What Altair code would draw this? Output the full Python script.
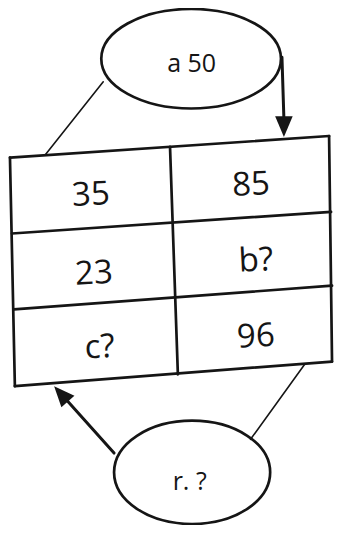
import altair as alt
import pandas as pd

# ---- table cell texts (diagram coordinates, y downward) ----
cell_labels = ["35", "85", "23", "b?", "c?", "96"]
cell_x = [95, 258, 98, 263, 104, 263]
cell_y = [208, 198, 288, 275, 363, 352]

# ---- ellipse nodes ----
node_labels = ["a 50", "r. ?"]
node_x = [196.5, 197.5]
node_y = [59.5, 479.5]
node_text_x = [197, 195]
node_text_y = [73, 497]

# ---- table grid segments ----
grid_x1 = [12, 17, 12, 337, 175, 14, 16]
grid_y1 = [160, 392, 160, 138, 149, 237, 314]
grid_x2 = [337, 340, 17, 340, 183, 339, 340]
grid_y2 = [138, 367, 392, 367, 380, 215, 290]

# ---- thin connectors ----
conn_x1 = [107, 257]
conn_y1 = [83, 446]
conn_x2 = [48, 312]
conn_y2 = [157, 370]

# ---- arrows ----
arrow_x1 = [289, 118]
arrow_y1 = [58, 460]
arrow_x2 = [291, 66]
arrow_y2 = [121, 402]
head_x = [291, 64]
head_y = [128.5, 399.8]
head_angle = [0, 138]

xs = alt.Scale(domain=[10, 342], nice=False, zero=False)
ys = alt.Scale(domain=[8, 533], reverse=True, nice=False, zero=False)
INK = "#151515"

cells = pd.DataFrame({"label": cell_labels, "x": cell_x, "y": cell_y})
nodes = pd.DataFrame({"label": node_labels, "x": node_x, "y": node_y,
                      "tx": node_text_x, "ty": node_text_y})
grid = pd.DataFrame({"x": grid_x1, "y": grid_y1, "x2": grid_x2, "y2": grid_y2})
conn = pd.DataFrame({"x": conn_x1, "y": conn_y1, "x2": conn_x2, "y2": conn_y2})
arrows = pd.DataFrame({"x": arrow_x1, "y": arrow_y1, "x2": arrow_x2, "y2": arrow_y2})
heads = pd.DataFrame({"x": head_x, "y": head_y, "angle": head_angle})


def seg(df, width):
    return alt.Chart(df).mark_rule(color=INK, strokeWidth=width, strokeCap="round").encode(
        x=alt.X("x:Q", scale=xs, axis=None),
        y=alt.Y("y:Q", scale=ys, axis=None),
        x2="x2:Q",
        y2="y2:Q",
    )


grid_layer = seg(grid, 2.7)
conn_layer = seg(conn, 1.6)
arrow_layer = seg(arrows, 3)

head_layer = alt.Chart(heads).mark_point(
    shape="M -0.85 -1 L 0.85 -1 L 0 1 Z", size=426, filled=True, color=INK, opacity=1
).encode(
    x=alt.X("x:Q", scale=xs, axis=None),
    y=alt.Y("y:Q", scale=ys, axis=None),
    angle=alt.Angle("angle:Q", scale=None),
)

top_ellipse = alt.Chart(nodes.iloc[[0]]).mark_point(
    shape="M -1 0 A 1 0.554 0 1 1 1 0 A 1 0.554 0 1 1 -1 0 Z",
    size=32290, filled=False, color=INK, strokeWidth=2.7, opacity=1
).encode(
    x=alt.X("x:Q", scale=xs, axis=None),
    y=alt.Y("y:Q", scale=ys, axis=None),
)

bottom_ellipse = alt.Chart(nodes.iloc[[1]]).mark_point(
    shape="M -1 0 A 1 0.662 0 1 1 1 0 A 1 0.662 0 1 1 -1 0 Z",
    size=24370, filled=False, color=INK, strokeWidth=2.7, opacity=1
).encode(
    x=alt.X("x:Q", scale=xs, axis=None),
    y=alt.Y("y:Q", scale=ys, axis=None),
)

node_text = alt.Chart(nodes).mark_text(
    font="Open Sans", fontSize=25, color=INK, align="center", baseline="alphabetic"
).encode(
    x=alt.X("tx:Q", scale=xs, axis=None),
    y=alt.Y("ty:Q", scale=ys, axis=None),
    text="label:N",
)

cell_text = alt.Chart(cells).mark_text(
    font="Open Sans", fontSize=33, color=INK, align="center", baseline="alphabetic", angle=357
).encode(
    x=alt.X("x:Q", scale=xs, axis=None),
    y=alt.Y("y:Q", scale=ys, axis=None),
    text="label:N",
)

chart = alt.layer(
    grid_layer, conn_layer, arrow_layer, head_layer,
    top_ellipse, bottom_ellipse, node_text, cell_text
).properties(
    width=326, height=517, padding=0, autosize="none", background="white"
).configure_view(stroke=None)

chart.save("out.html", embed_options={"renderer": "svg", "actions": False})
